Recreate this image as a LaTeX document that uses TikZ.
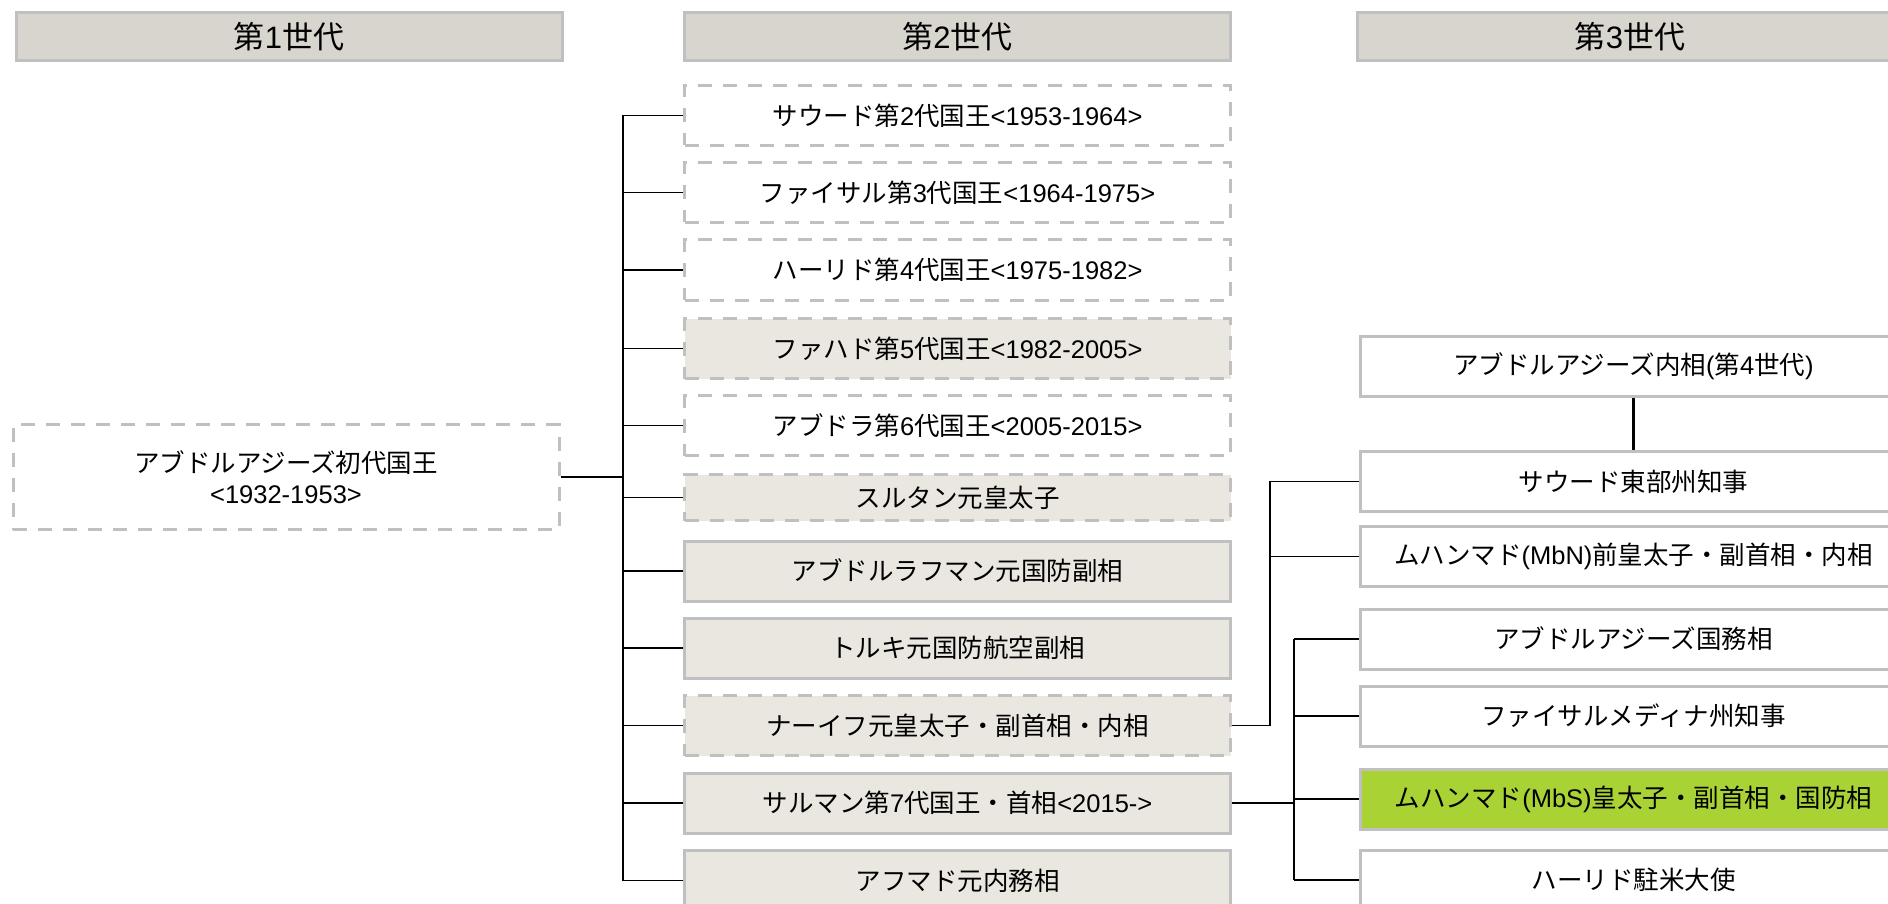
\documentclass[tikz,border=0pt]{standalone}
\usepackage{fontspec}
\setmainfont{Noto Sans CJK JP}
\newfontfamily\latfont{Liberation Sans}
\newcommand\LT[1]{{\latfont #1}}
\definecolor{hdrfill}{HTML}{D8D5CF}
\definecolor{boxfill}{HTML}{EAE6E0}
\definecolor{bordergray}{HTML}{C0C0C0}
\definecolor{mbsgreen}{HTML}{A9D334}
\tikzset{
  base/.style={rectangle, draw=bordergray, line width=3pt, minimum width=546pt,
    minimum height=60pt, inner sep=0pt, align=center, text=black,
    font=\fontsize{25.5}{31}\selectfont},
  hdr/.style={base, fill=hdrfill, minimum height=48pt, font=\fontsize{31}{34}\selectfont},
  dbox/.style={base, dash pattern=on 14pt off 11pt},
  gbox/.style={fill=boxfill},
  wbox/.style={fill=white},
  thin/.style={line width=1.6pt, black},
  thick/.style={line width=2.6pt, black},
}
\begin{document}
\begin{tikzpicture}[x=1pt, y=-1pt]
\useasboundingbox (0,0) rectangle (1888,904);
\fill[white] (0,0) rectangle (1888,904);
% headers
\node[hdr] (h1) at (289,36.5) {第\LT{1}世代};
\node[hdr] (h2) at (957.5,36.5) {第\LT{2}世代};
\node[hdr] (h3) at (1630,36.5) {第\LT{3}世代};
% generation 1
\node[dbox, wbox, minimum height=105pt] (g1) at (286,477) {アブドルアジーズ初代国王\\\LT{<1932-1953>}};
% generation 2
\node[dbox, wbox] (saud) at (957.5,115.5) {サウード第\LT{2}代国王\LT{<1953-1964>}};
\node[dbox, wbox] (faisal) at (957.5,192.5) {ファイサル第\LT{3}代国王\LT{<1964-1975>}};
\node[dbox, wbox] (khalid) at (957.5,270) {ハーリド第\LT{4}代国王\LT{<1975-1982>}};
\node[dbox, gbox] (fahd) at (957.5,348.5) {ファハド第\LT{5}代国王\LT{<1982-2005>}};
\node[dbox, wbox] (abdullah) at (957.5,425.5) {アブドラ第\LT{6}代国王\LT{<2005-2015>}};
\node[dbox, gbox, minimum height=46pt] (sultan) at (957.5,497.5) {スルタン元皇太子};
\node[base, gbox] (abdulrahman) at (957.5,571) {アブドルラフマン元国防副相};
\node[base, gbox] (turki) at (957.5,648) {トルキ元国防航空副相};
\node[dbox, gbox] (naif) at (957.5,725.5) {ナーイフ元皇太子・副首相・内相};
\node[base, gbox] (salman) at (957.5,803) {サルマン第\LT{7}代国王・首相\LT{<2015->}};
\node[base, gbox] (ahmad) at (957.5,880.5) {アフマド元内務相};
% generation 3
\node[base, wbox] (azi) at (1633.5,366) {アブドルアジーズ内相\LT{(}第\LT{4}世代\LT{)}};
\node[base, wbox] (sauE) at (1633.5,481.5) {サウード東部州知事};
\node[base, wbox] (mbn) at (1633.5,556.5) {ムハンマド\LT{(MbN)}前皇太子・副首相・内相};
\node[base, wbox] (azs) at (1633.5,639) {アブドルアジーズ国務相};
\node[base, wbox] (fmed) at (1633.5,716) {ファイサルメディナ州知事};
\node[base, fill=mbsgreen] (mbs) at (1633.5,799) {ムハンマド\LT{(MbS)}皇太子・副首相・国防相};
\node[base, wbox] (khalid3) at (1633.5,880) {ハーリド駐米大使};
% bus coordinates
\coordinate (bus1) at (623,478);
\coordinate (bus2) at (1270,726);
\coordinate (bus3) at (1294,803);
% connectors gen1 -> gen2
\draw[thick] (g1.east) -- (g1.east -| bus1);
\draw[thin] (bus1 |- saud.west) -- (bus1 |- ahmad.west);
\foreach \n in {saud,faisal,khalid,fahd,abdullah,sultan,abdulrahman,turki,naif,salman,ahmad}
  \draw[thin] (bus1 |- \n.west) -- (\n.west);
% naif -> children
\draw[thin] (naif.east) -- (bus2 |- naif.east) -- (bus2 |- sauE.west) -- (sauE.west);
\draw[thin] (bus2 |- mbn.west) -- (mbn.west);
% salman -> children
\draw[thick] (salman.east) -- (bus3 |- salman.east);
\draw[thin] (bus3 |- azs.west) -- (bus3 |- khalid3.west);
\foreach \n in {azs,fmed,mbs,khalid3}
  \draw[thin] (bus3 |- \n.west) -- (\n.west);
% saud eastern -> son
\draw[thick] (azi.south) -- (sauE.north);
\end{tikzpicture}
\end{document}
